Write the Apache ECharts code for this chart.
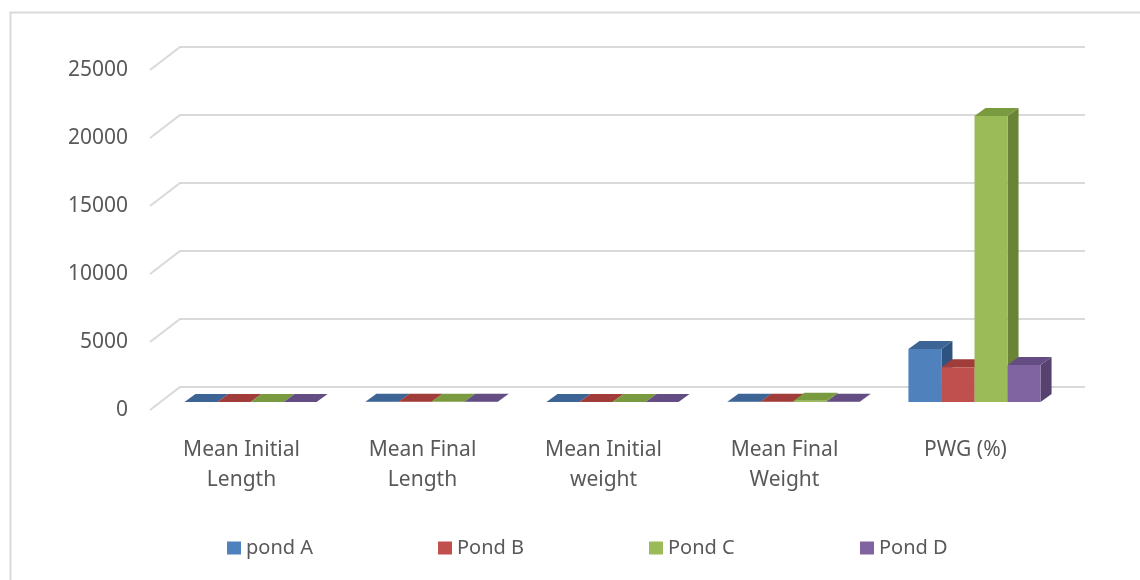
<!DOCTYPE html>
<html>
<head>
<meta charset="utf-8">
<script src="https://cdn.jsdelivr.net/npm/echarts@6/dist/echarts.min.js"></script>
<style>
  html, body { margin: 0; padding: 0; background: #ffffff; }
  #chart { width: 1140px; height: 580px; }
</style>
</head>
<body>
<div id="chart"></div>
<script>
// Growth measurements per pond
const categories = ['Mean Initial Length', 'Mean Final Length', 'Mean Initial weight', 'Mean Final Weight', 'PWG (%)'];
const pondA = [3.2, 12.5, 0.45, 18.0, 3900];
const pondB = [3.1, 11.8, 0.47, 12.5, 2560];
const pondC = [3.3, 14.6, 0.43, 90.9, 21030];
const pondD = [3.0, 12.1, 0.46, 13.0, 2726];
const seriesNames = ['pond A', 'Pond B', 'Pond C', 'Pond D'];
const yTicks = [0, 5000, 10000, 15000, 20000, 25000];

// Face / top / side shades for the extruded columns
const palette = [
  { face: '#4F81BD', top: '#3C6596', side: '#2F5380' },
  { face: '#C0504D', top: '#A03C39', side: '#8E3532' },
  { face: '#9BBB59', top: '#7A9A40', side: '#6A8436' },
  { face: '#8064A2', top: '#634D82', side: '#55426F' }
];

const GROUP = 0.73;                  // share of a category band filled by the four columns
const BAR_DX = 11, BAR_DY = -8;      // column depth in screen pixels
const FRONT_DX = -10, FRONT_DY = 8;  // floor front edge relative to the column fronts
const WALL_DX = 20, WALL_DY = -15;   // back wall relative to the column fronts
const textColor = '#595959';
const font = 'Noto Sans';

function columnRenderer(idx) {
  const c = palette[idx];
  return function (params, api) {
    const cat = api.value(0);
    const val = api.value(1);
    const base = api.coord([cat, 0]);
    const top = api.coord([cat, val]);
    const band = api.size([1, 0])[0];
    const w = band * GROUP / 4;
    const x0 = base[0] - band * GROUP / 2 + idx * w;
    const x1 = x0 + w;
    const yb = base[1];
    const yt = top[1];
    return {
      type: 'group',
      children: [
        { type: 'polygon', shape: { points: [[x1, yt], [x1, yb], [x1 + BAR_DX, yb + BAR_DY], [x1 + BAR_DX, yt + BAR_DY]] }, style: { fill: c.side } },
        { type: 'polygon', shape: { points: [[x0, yt], [x1, yt], [x1 + BAR_DX, yt + BAR_DY], [x0 + BAR_DX, yt + BAR_DY]] }, style: { fill: c.top } },
        { type: 'rect', shape: { x: x0, y: yt, width: w, height: Math.max(yb - yt, 0) }, style: { fill: c.face } }
      ]
    };
  };
}

function wallLineRenderer(params, api) {
  const y = api.coord([0, api.value(1)])[1];
  const cs = params.coordSys;
  return {
    type: 'polyline',
    silent: true,
    shape: { points: [
      [cs.x + FRONT_DX, y + FRONT_DY],
      [cs.x + WALL_DX, y + WALL_DY],
      [cs.x + cs.width + WALL_DX, y + WALL_DY]
    ] },
    style: { stroke: '#D9D9D9', lineWidth: 2, fill: null }
  };
}

const pondValues = [pondA, pondB, pondC, pondD];

const series = [{
  type: 'custom',
  name: 'wall',
  z: 1,
  silent: true,
  renderItem: wallLineRenderer,
  encode: { x: 0, y: 1 },
  data: yTicks.map(v => [0, v])
}];

pondValues.forEach((vals, i) => {
  series.push({
    type: 'custom',
    name: seriesNames[i],
    z: 2,
    itemStyle: { color: palette[i].face },
    renderItem: columnRenderer(i),
    encode: { x: 0, y: 1 },
    data: vals.map((v, k) => [k, v])
  });
});

const hiddenAxisParts = {
  axisLine: { show: false },
  axisTick: { show: false },
  splitLine: { show: false }
};

const chart = echarts.init(document.getElementById('chart'), null, { renderer: 'canvas' });
chart.setOption({
  animation: false,
  backgroundColor: '#ffffff',
  textStyle: { fontFamily: font },
  graphic: [{
    type: 'rect',
    left: 8, top: 10,
    shape: { width: 1200, height: 640 },
    style: { fill: null, stroke: '#D9D9D9', lineWidth: 2 },
    silent: true,
    z: 0
  }],
  grid: [
    // plane of the column fronts
    { left: 160, right: 75, top: 62, bottom: 178 },
    // front edge of the floor, carrying the value labels
    { left: 160, right: 75, top: 70, bottom: 170 }
  ],
  xAxis: [{
    type: 'category',
    gridIndex: 0,
    data: categories,
    ...hiddenAxisParts,
    axisLabel: {
      interval: 0,
      margin: 33,
      color: textColor,
      fontFamily: font,
      fontSize: 21,
      lineHeight: 30,
      padding: [0, 18, 0, 0],
      formatter: v => v.split(' ').length > 2 ? v.replace(/ (\S+)$/, '\n$1') : v
    }
  }, {
    type: 'category',
    gridIndex: 1,
    data: categories,
    show: false
  }],
  yAxis: [{
    type: 'value',
    gridIndex: 0,
    min: 0,
    max: 25000,
    interval: 5000,
    ...hiddenAxisParts,
    axisLabel: { show: false }
  }, {
    type: 'value',
    gridIndex: 1,
    min: 0,
    max: 25000,
    interval: 5000,
    ...hiddenAxisParts,
    axisLabel: {
      margin: 32,
      color: textColor,
      fontFamily: font,
      fontSize: 21,
      formatter: v => String(v)
    }
  }],
  legend: {
    data: seriesNames,
    left: 227,
    top: 536,
    padding: 0,
    icon: 'rect',
    itemWidth: 14,
    itemHeight: 13,
    itemGap: 0,
    textStyle: { color: textColor, fontFamily: font, fontSize: 20, width: 192, lineHeight: 24 }
  },
  series: series
});
</script>
</body>
</html>
